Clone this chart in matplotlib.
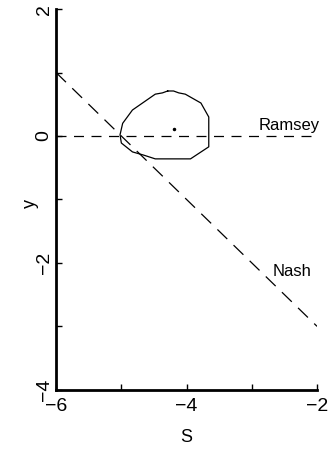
import numpy as np
import matplotlib
matplotlib.use("Agg")
import matplotlib.pyplot as plt

plt.rcParams['font.family'] = ['Liberation Sans', 'DejaVu Sans']

# closed contour (S, y)
contour_s = [-4.29, -4.20, -4.12, -4.02, -3.78, -3.66, -3.66, -3.94, -4.48, -4.66,
             -4.83, -5.00, -5.02, -4.98, -4.83, -4.48, -4.37, -4.29]
contour_y = [0.71, 0.71, 0.68, 0.66, 0.52, 0.30, -0.17, -0.36, -0.36, -0.30,
             -0.25, -0.11, 0.02, 0.20, 0.41, 0.66, 0.68, 0.71]
point_s, point_y = -4.2, 0.11

# Nash and Ramsey lines
nash_s = [-6, -2]
nash_y = [1.0, -3.0]
ramsey_s = [-6, -2]
ramsey_y = [0, 0]

fig = plt.figure(figsize=(3.32, 4.57), dpi=100)
ax = fig.add_axes([0.169, 0.147, 0.786, 0.833])

ax.plot(contour_s, contour_y, color='black', lw=0.9)
ax.plot([point_s], [point_y], 'k.', ms=3)
ax.plot(nash_s, nash_y, color='black', lw=0.9, dashes=(11, 7))
ax.plot(ramsey_s, ramsey_y, color='black', lw=0.9, dashes=(8, 6))

ax.text(-2.89, 0.17, 'Ramsey', fontsize=12, va='center', ha='left')
ax.text(-2.68, -2.14, 'Nash', fontsize=12, va='center', ha='left')

ax.set_xlim(-6, -2)
ax.set_ylim(-4, 2)
ax.set_xticks([-6, -4, -2])
ax.set_xticks([-5, -3], minor=True)
ax.set_yticks([-4, -2, 0, 2])
ax.set_yticks([-3, -1, 1], minor=True)
for lab in ax.get_yticklabels():
    lab.set_rotation(90)
    lab.set_va('center')
ax.tick_params(which='both', direction='in', length=4, width=1, labelsize=14, pad=6)
ax.tick_params(axis='y', pad=2.5)

for side in ['top', 'right']:
    ax.spines[side].set_visible(False)
for side in ['left', 'bottom']:
    ax.spines[side].set_linewidth(2)

ax.set_xlabel('S', fontsize=13, labelpad=10)
ax.set_ylabel('y', fontsize=13, va='center')
ax.yaxis.set_label_coords(-0.10, 0.49)

fig.savefig('out.png', dpi=100)
